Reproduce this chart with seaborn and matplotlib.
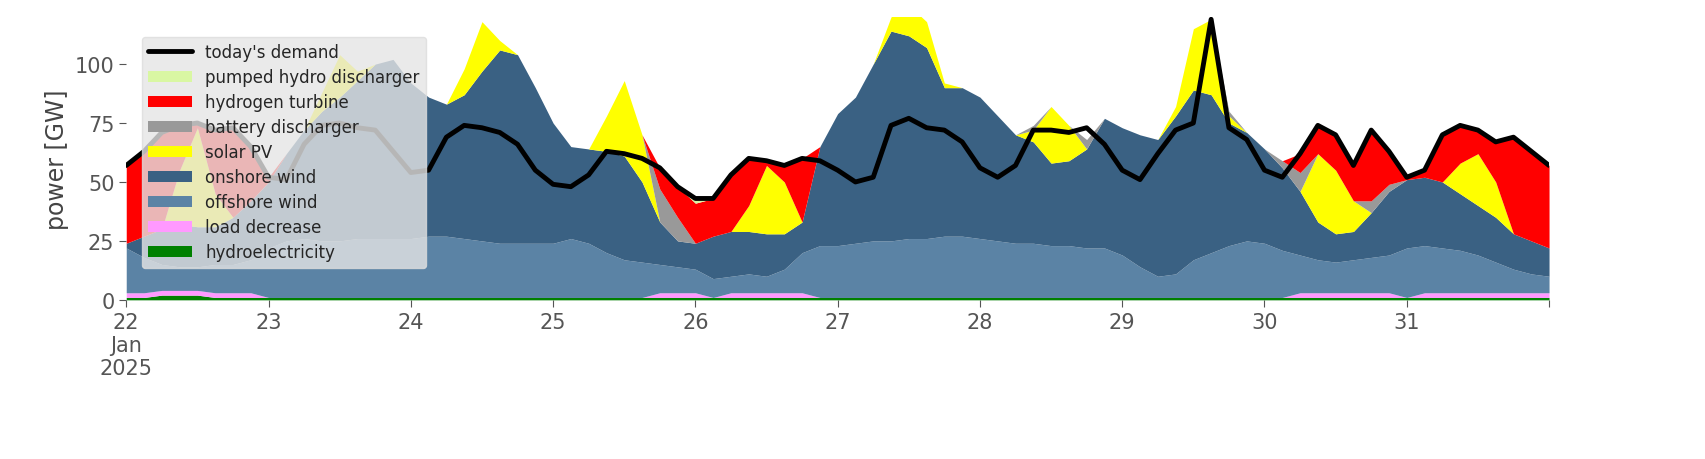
import matplotlib
matplotlib.use("Agg")
import matplotlib.pyplot as plt
import seaborn as sns
import pandas as pd

sns.set_style("white")

# 3-hourly timestamps, 22 Jan 2025 00:00 to 1 Feb 2025 00:00
times = pd.date_range("2025-01-22", periods=81, freq="3h")

def sparse(d):
    return [d.get(i, 0) for i in range(81)]

hydro = [1, 1, 2, 2, 2] + [1] * 76
load_decrease = sparse({0: 2, 1: 2, 2: 2, 3: 2, 4: 2, 5: 2, 6: 2, 7: 2, 30: 2, 31: 2, 32: 2,
                        34: 2, 35: 2, 36: 2, 37: 2, 38: 2, 66: 2, 67: 2, 68: 2, 69: 2, 70: 2, 71: 2,
                        73: 2, 74: 2, 75: 2, 76: 2, 77: 2, 78: 2, 79: 2, 80: 2})
offshore = [19, 15, 11, 10, 10, 12, 12, 14, 21, 24, 25, 24, 24, 25, 25, 25, 25, 26, 26, 25,
            24, 23, 23, 23, 23, 25, 23, 19, 16, 15, 12, 11, 10, 8, 7, 8, 7, 10, 17, 22,
            22, 23, 24, 24, 25, 25, 26, 26, 25, 24, 23, 23, 22, 22, 21, 21, 18, 13, 9, 10,
            16, 19, 22, 24, 23, 20, 16, 14, 13, 14, 15, 16, 21, 20, 19, 18, 16, 13, 10, 8, 7]
onshore = [2, 9, 15, 18, 17, 16, 20, 25, 28, 37, 46, 55, 61, 67, 74, 76, 66, 59, 56, 61,
           72, 82, 80, 66, 51, 39, 40, 43, 44, 34, 18, 11, 11, 18, 19, 18, 18, 15, 13, 42,
           56, 62, 75, 89, 86, 81, 63, 63, 60, 53, 46, 43, 35, 36, 42, 55, 54, 56, 58, 67,
           72, 67, 52, 46, 40, 35, 27, 16, 12, 12, 19, 27, 29, 29, 28, 24, 21, 19, 15, 14, 12]
solar = sparse({3: 23, 4: 42, 5: 14, 11: 8, 12: 18, 13: 4, 19: 11, 20: 21, 21: 4,
                27: 15, 28: 32, 29: 20, 35: 11, 36: 29, 37: 22, 43: 6, 44: 13, 45: 11, 46: 2,
                51: 5, 52: 24, 53: 15, 59: 4, 60: 26, 61: 32, 62: 3, 67: 29, 68: 27, 69: 13,
                75: 13, 76: 22, 77: 15})
battery = sparse({30: 14, 31: 10, 51: 2, 54: 4, 62: 2, 65: 3, 66: 8, 70: 5, 71: 3})
hydrogen = sparse({0: 33, 1: 36, 2: 41, 3: 19, 4: 2, 5: 27, 6: 38, 7: 23, 8: 2,
                   30: 9, 31: 13, 32: 17, 33: 16, 34: 24, 35: 20, 36: 2, 37: 7, 38: 27,
                   66: 8, 67: 12, 68: 15, 69: 15, 70: 30, 71: 14, 72: 1, 73: 3, 74: 20,
                   75: 16, 76: 10, 77: 17, 78: 41, 79: 38, 80: 35})
pumped_hydro = sparse({32: 2, 67: 1, 70: 1})

demand = [57, 63, 71, 74, 75, 72, 73, 65, 52, 51, 66, 74, 75, 73, 72, 63, 54, 55, 69, 74,
          73, 71, 66, 55, 49, 48, 53, 63, 62, 60, 56, 48, 43, 43, 53, 60, 59, 57, 60, 59,
          55, 50, 52, 74, 77, 73, 72, 67, 56, 52, 57, 72, 72, 71, 73, 66, 55, 51, 62, 72,
          75, 119, 73, 68, 55, 52, 62, 74, 70, 57, 72, 63, 52, 55, 70, 74, 72, 67, 69, 63, 57]

labels = ["hydroelectricity", "load decrease", "offshore wind", "onshore wind", "solar PV",
          "battery discharger", "hydrogen turbine", "pumped hydro discharger"]
colors = ["green", "#ff99ff", "#5b83a5", "#3a6183", "yellow", "#999999", "red", "#d9f7a3"]

fig = plt.figure(figsize=(17.06, 4.6), dpi=100)
ax = fig.add_axes([0.074, 0.346, 0.834, 0.615])

ax.stackplot(times, hydro, load_decrease, offshore, onshore, solar, battery,
             hydrogen, pumped_hydro, colors=colors, labels=labels, linewidth=0)
sns.lineplot(x=times, y=demand, ax=ax, color="black", linewidth=3.5, label="today's demand")

ax.set_xlim(times[0], times[-1])
ax.set_ylim(0, 120)
ax.set_yticks([0, 25, 50, 75, 100])
ax.set_ylabel("power [GW]", fontsize=17, color="#444444")
ax.set_xlabel("")

days = pd.date_range("2025-01-22", "2025-02-01", freq="D")
ax.set_xticks(days)
ax.set_xticklabels(["22\nJan\n2025"] + [str(d.day) for d in days[1:-1]] + [""])
ax.tick_params(axis="both", labelsize=15, labelcolor="#555555", length=5, color="#555555",
               left=True, bottom=True)
for s in ax.spines.values():
    s.set_visible(False)

handles, labs = ax.get_legend_handles_labels()
line_h = handles[-1]
area_h = handles[:-1][::-1]
ax.legend([line_h] + area_h, [labs[-1]] + labs[:-1][::-1], loc="upper left",
          bbox_to_anchor=(0.005, 0.96), fontsize=12, frameon=True,
          facecolor="#e5e5e5", framealpha=0.8, edgecolor="#dddddd",
          handlelength=2.6, labelspacing=0.42)

fig.savefig("out.png", dpi=100)
